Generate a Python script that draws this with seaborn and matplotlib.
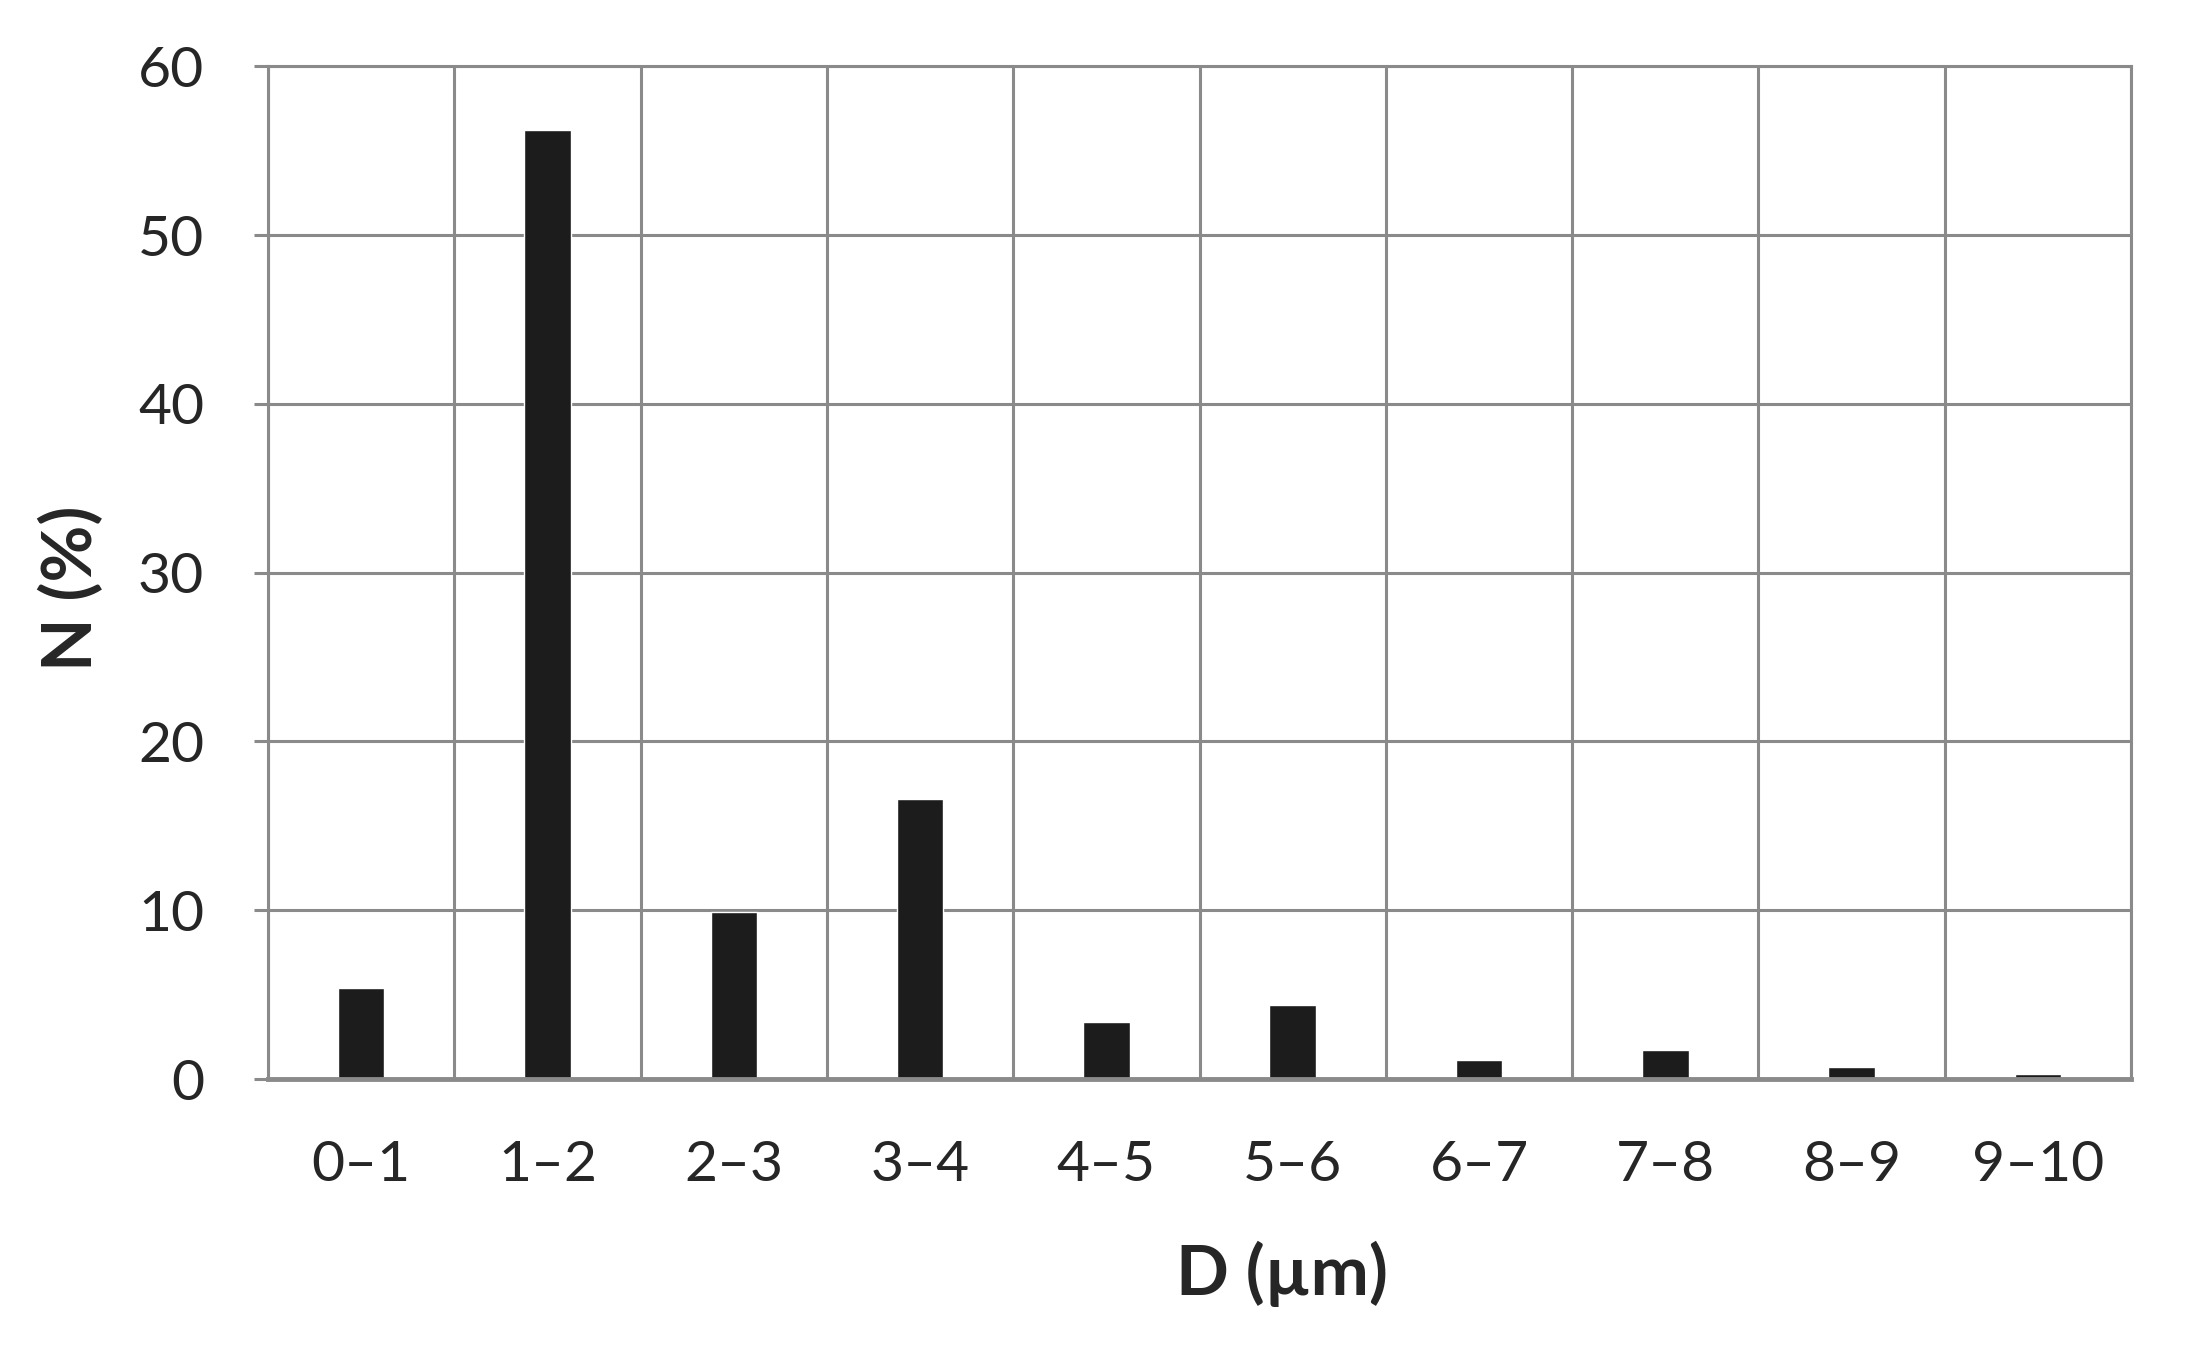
import numpy as np
import pandas as pd
import matplotlib
matplotlib.use('Agg')
import matplotlib.pyplot as plt
from matplotlib.ticker import FixedLocator
import seaborn as sns

# size classes and share of particles
classes = ['0–1', '1–2', '2–3', '3–4', '4–5', '5–6', '6–7', '7–8', '8–9', '9–10']
share = [5.4, 56.2, 9.9, 16.6, 3.4, 4.4, 1.1, 1.7, 0.7, 0.3]
y_ticks = [0, 10, 20, 30, 40, 50, 60]

sns.set_style('white')
plt.rcParams['font.family'] = ['Lato', 'DejaVu Sans']

data = pd.DataFrame({'D': classes, 'N': share})

fig = plt.figure(figsize=(21.88, 13.53), dpi=100)
ax = fig.add_axes([0.1225, 0.2025, 0.8515, 0.7485])

sns.barplot(data=data, x='D', y='N', color='#1c1c1c', width=0.25,
            saturation=1, ax=ax, zorder=3)

grid_col = '#8a8a8a'
ax.set_xlim(-0.5, len(classes) - 0.5)
ax.set_ylim(0, 60)
ax.set_yticks(y_ticks)
ax.xaxis.set_minor_locator(FixedLocator(np.arange(-0.5, len(classes), 1.0)))
ax.grid(axis='y', which='major', color=grid_col, lw=2.2, zorder=0)
ax.grid(axis='x', which='minor', color=grid_col, lw=2.2, zorder=0)
ax.grid(axis='x', which='major', visible=False)

for s in ['left', 'right', 'top']:
    ax.spines[s].set_color(grid_col)
    ax.spines[s].set_linewidth(2.2)
ax.spines['bottom'].set_color(grid_col)
ax.spines['bottom'].set_linewidth(3.5)
ax.spines['bottom'].set_zorder(4)

ax.tick_params(axis='y', which='major', length=10, width=2.2, color=grid_col,
               labelsize=41, pad=36, left=True)
ax.tick_params(axis='x', which='major', length=0, labelsize=41, pad=44)
ax.tick_params(axis='x', which='minor', length=0)

ax.set_xlabel('D (µm)', fontsize=50, fontweight='bold')
ax.set_ylabel('N (%)', fontsize=50, fontweight='bold')
ax.xaxis.set_label_coords(0.544, -0.16)
ax.yaxis.set_label_coords(-0.088, 0.485)

fig.savefig('out.png', dpi=100)
